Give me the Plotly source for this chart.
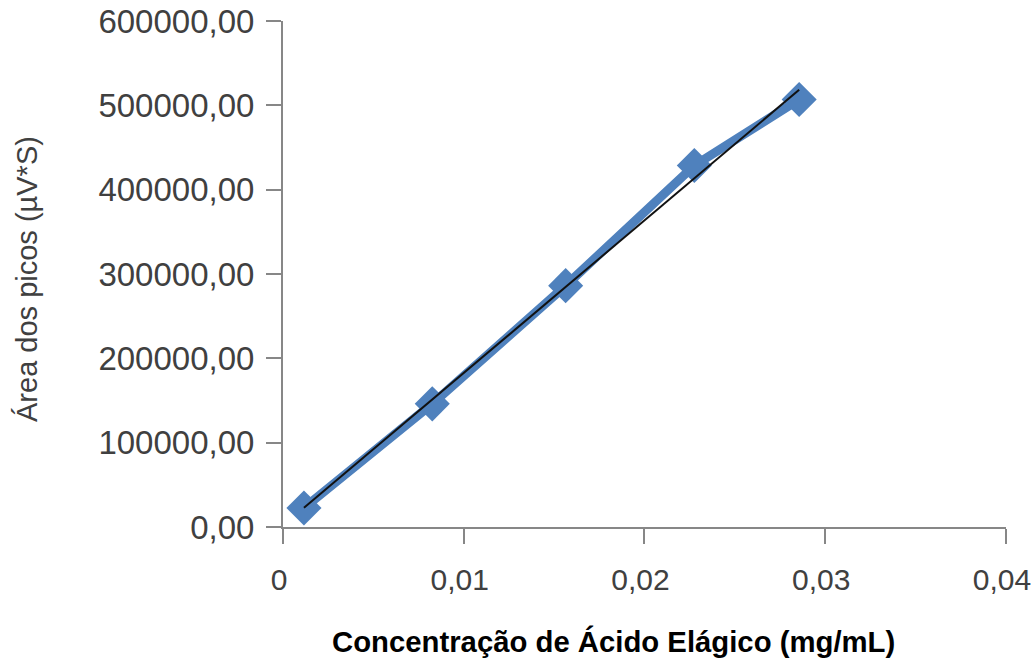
import numpy as np
import plotly.graph_objects as go

# Data
concentracao = [0.00116, 0.00826, 0.01564, 0.02276, 0.02856]   # mg/mL
area_picos = [22600, 146000, 286200, 428700, 507000]          # µV*S

x_tickvals = [0, 0.01, 0.02, 0.03, 0.04]
x_ticktext = ["0", "0,01", "0,02", "0,03", "0,04"]
y_tickvals = [0, 100000, 200000, 300000, 400000, 500000, 600000]
y_ticktext = ["0,00", "100000,00", "200000,00", "300000,00",
              "400000,00", "500000,00", "600000,00"]

x_title = "<b>Concentração de Ácido Elágico (mg/mL)</b>"
y_title = "Área dos picos (µV*S)"

# Linear trendline (least squares) over data range
slope, intercept = np.polyfit(concentracao, area_picos, 1)
trend_x = [min(concentracao), max(concentracao)]
trend_y = [slope * v + intercept for v in trend_x]

W, H = 1035, 658
L, R, T, B = 283, 29, 21, 131
pw, ph = W - L - R, H - T - B

fig = go.Figure()
fig.add_trace(go.Scatter(
    x=concentracao, y=area_picos, mode="lines+markers",
    line=dict(color="#4F81BD", width=9),
    marker=dict(symbol="diamond", size=27, color="#4F81BD"),
    showlegend=False, hoverinfo="skip",
))
fig.add_trace(go.Scatter(
    x=trend_x, y=trend_y, mode="lines",
    line=dict(color="#111111", width=2),
    showlegend=False, hoverinfo="skip",
))

axis_common = dict(
    showgrid=False, zeroline=False, showline=True, automargin=False,
    linecolor="#878787", linewidth=2, ticklabeloverflow="allow",
    ticks="outside", ticklen=15, tickwidth=2, tickcolor="#878787",
)

fig.update_layout(
    width=W, height=H,
    margin=dict(l=L, r=R, t=T, b=B),
    paper_bgcolor="white", plot_bgcolor="white",
    xaxis=dict(range=[0, 0.040005], tickvals=x_tickvals, ticktext=x_ticktext,
               ticklabelstandoff=10, ticklabelshift=-4,
               tickfont=dict(family="Arial, Liberation Sans", size=30, color="#404040"),
               **axis_common),
    yaxis=dict(range=[0, 600000], tickvals=y_tickvals, ticktext=y_ticktext,
               ticklabelstandoff=5,
               tickfont=dict(family="Arial, Liberation Sans", size=33, color="#404040"),
               **axis_common),
    annotations=[
        dict(text=y_title, xref="paper", yref="paper",
             x=(27 - L) / pw, y=(H - B - 279) / ph,
             xanchor="center", yanchor="middle", textangle=-90, showarrow=False,
             font=dict(family="Arial, Liberation Sans", size=29, color="#404040")),
        dict(text=x_title, xref="paper", yref="paper",
             x=(613 - L) / pw, y=(H - B - 641) / ph,
             xanchor="center", yanchor="middle", showarrow=False,
             font=dict(family="Arial, Liberation Sans", size=29.3, color="#000000")),
    ],
)

fig.write_html(
    "out.html",
    config={"displayModeBar": False},
    post_script="document.body.style.margin='0px';document.body.style.overflow='hidden';",
)
